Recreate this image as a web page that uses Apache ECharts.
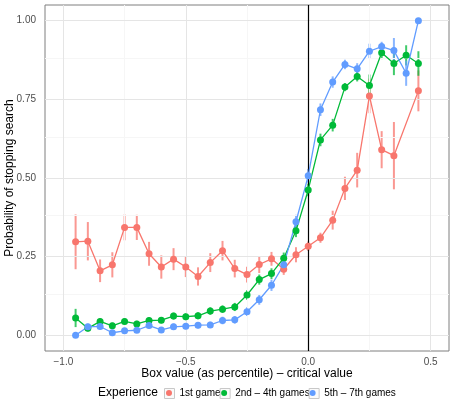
<!DOCTYPE html>
<html>
<head>
<meta charset="utf-8">
<script src="https://cdn.jsdelivr.net/npm/echarts@6/dist/echarts.min.js"></script>
<style>
  html, body { margin: 0; padding: 0; background: #fff; }
  #chart { width: 450px; height: 400px; }
</style>
</head>
<body>
<div id="chart"></div>
<script>
// box value (percentile) - critical value
const xVals = [-0.95, -0.90, -0.85, -0.80, -0.75, -0.70, -0.65, -0.60, -0.55, -0.50,
  -0.45, -0.40, -0.35, -0.30, -0.25, -0.20, -0.15, -0.10, -0.05, 0.00,
  0.05, 0.10, 0.15, 0.20, 0.25, 0.30, 0.35, 0.40, 0.45];

// probability of stopping search, per experience group
const firstGame = [0.297, 0.299, 0.205, 0.224, 0.343, 0.343, 0.259, 0.217, 0.242, 0.217,
  0.187, 0.231, 0.269, 0.212, 0.193, 0.225, 0.243, 0.210, 0.256, 0.283,
  0.310, 0.366, 0.467, 0.525, 0.761, 0.590, 0.571, null, 0.777];
const firstGameErr = [0.087, 0.061, 0.036, 0.040, 0.041, 0.040, 0.038, 0.037, 0.035, 0.032,
  0.029, 0.030, 0.031, 0.028, 0.025, 0.027, 0.022, 0.018, 0.024, 0.015,
  0.016, 0.030, 0.037, 0.055, 0.055, 0.059, 0.107, null, 0.065];

const midGames = [0.055, 0.022, 0.044, 0.030, 0.044, 0.036, 0.047, 0.048, 0.061, 0.059,
  0.062, 0.077, 0.083, 0.090, 0.128, 0.177, 0.196, 0.245, 0.332, 0.462,
  0.621, 0.668, 0.789, 0.823, 0.794, 0.898, 0.864, 0.890, 0.864];
const midGamesErr = [0.029, 0.010, 0.010, 0.010, 0.010, 0.010, 0.010, 0.010, 0.011, 0.011,
  0.011, 0.012, 0.012, 0.013, 0.015, 0.016, 0.017, 0.018, 0.020, 0.020,
  0.020, 0.020, 0.013, 0.016, 0.035, 0.020, 0.037, 0.032, 0.039];

const lateGames = [0.000, 0.027, 0.028, 0.008, 0.014, 0.016, 0.031, 0.017, 0.027, 0.029,
  0.032, 0.033, 0.047, 0.049, 0.075, 0.113, 0.159, 0.224, 0.361, 0.507,
  0.717, 0.805, 0.861, 0.847, 0.903, 0.918, 0.905, 0.833, 1.000];
const lateGamesErr = [0.000, 0.010, 0.010, 0.006, 0.007, 0.008, 0.010, 0.008, 0.010, 0.010,
  0.010, 0.010, 0.012, 0.012, 0.014, 0.016, 0.018, 0.020, 0.022, 0.022,
  0.020, 0.018, 0.015, 0.018, 0.024, 0.015, 0.040, 0.040, 0.000];

const groupNames = ['1st game', '2nd – 4th games', '5th – 7th games'];
const groupColors = ['#F8766D', '#00BA38', '#619CFF'];

// tick values
const xMajor = [-1.0, -0.5, 0.0, 0.5];
const xMinor = [-0.75, -0.25, 0.25];
const yMajor = [0, 0.25, 0.5, 0.75, 1.0];
const yMinor = [0.125, 0.375, 0.625, 0.875];

const FONT = 'Liberation Sans, Arial, sans-serif';

const chart = echarts.init(document.getElementById('chart'));

// 误差线
function errorSeries(name, vals, errs, color) {
  const data = [];
  xVals.forEach((x, i) => {
    if (vals[i] == null || !errs[i]) return;
    data.push([x, vals[i] - errs[i], vals[i] + errs[i]]);
  });
  return {
    name: name,
    type: 'custom',
    silent: true,
    data: data,
    itemStyle: { color: color },
    encode: { x: 0, y: [1, 2] },
    renderItem: function (params, api) {
      const p1 = api.coord([api.value(0), api.value(1)]);
      const p2 = api.coord([api.value(0), api.value(2)]);
      return {
        type: 'line',
        shape: { x1: p1[0], y1: p1[1], x2: p2[0], y2: p2[1] },
        style: { stroke: color, lineWidth: 2, opacity: 0.75 }
      };
    },
    z: 2
  };
}

function lineSeries(name, vals, color) {
  return {
    name: name,
    type: 'line',
    data: xVals.map((x, i) => [x, vals[i]]),
    connectNulls: true,
    symbol: 'circle',
    symbolSize: 7,
    itemStyle: { color: color, borderWidth: 0, opacity: 1 },
    lineStyle: { color: color, width: 1.3 },
    emphasis: { disabled: true },
    z: 5
  };
}

const gridLines = [];
xMinor.forEach(v => gridLines.push({ xAxis: v, lineStyle: { color: '#f6f6f6', width: 1, type: 'solid' } }));
yMinor.forEach(v => gridLines.push({ yAxis: v, lineStyle: { color: '#f6f6f6', width: 1, type: 'solid' } }));
xMajor.forEach(v => gridLines.push({ xAxis: v, lineStyle: { color: '#e5e5e5', width: 1, type: 'solid' } }));
yMajor.forEach(v => gridLines.push({ yAxis: v, lineStyle: { color: '#e5e5e5', width: 1, type: 'solid' } }));

const option = {
  animation: false,
  backgroundColor: '#fff',
  title: {
    text: 'Experience',
    left: 98,
    top: 387,
    padding: 0,
    textStyle: { fontFamily: FONT, fontSize: 12, fontWeight: 'normal', color: '#000' }
  },
  legend: [
    {
      data: groupNames,
      left: 164,
      top: 388,
      padding: 0,
      itemGap: -1,
      itemWidth: 10,
      itemHeight: 10,
      icon: 'rect',
      selectedMode: false,
      itemStyle: { color: '#fafafa', borderColor: '#c8c8c8', borderWidth: 1 },
      textStyle: { fontFamily: FONT, fontSize: 10, color: '#000' }
    },
    {
      data: groupNames,
      left: 166,
      top: 388,
      padding: 0,
      itemGap: 3,
      itemWidth: 6,
      itemHeight: 6,
      icon: 'circle',
      selectedMode: false,
      textStyle: { fontFamily: FONT, fontSize: 10, color: 'rgba(0,0,0,0)' }
    }
  ],
  grid: {
    left: 45,
    right: 1,
    top: 5,
    bottom: 49,
    containLabel: false,
    outerBoundsMode: 'none',
    show: true,
    backgroundColor: '#fff',
    borderColor: '#7f7f7f',
    borderWidth: 1
  },
  xAxis: {
    type: 'value',
    min: -1.075,
    max: 0.575,
    name: 'Box value (as percentile) – critical value',
    nameLocation: 'middle',
    nameGap: 17,
    nameMoveOverlap: false,
    nameTextStyle: { fontFamily: FONT, fontSize: 12, color: '#000' },
    axisLine: { show: false },
    axisTick: { show: true, length: 4, customValues: xMajor, lineStyle: { color: '#7f7f7f' } },
    axisLabel: {
      customValues: xMajor,
      margin: 6,
      fontFamily: FONT,
      fontSize: 10,
      color: '#4d4d4d',
      formatter: v => (v < 0 ? '\u2212' : '') + Math.abs(v).toFixed(1)
    },
    splitLine: { show: false }
  },
  yAxis: {
    type: 'value',
    min: -0.05,
    max: 1.05,
    name: 'Probability of stopping search',
    nameLocation: 'middle',
    nameGap: 29,
    nameMoveOverlap: false,
    nameTextStyle: { fontFamily: FONT, fontSize: 12, color: '#000' },
    axisLine: { show: false },
    axisTick: { show: true, length: 4, customValues: yMajor, lineStyle: { color: '#7f7f7f' } },
    axisLabel: {
      customValues: yMajor,
      margin: 9,
      fontFamily: FONT,
      fontSize: 10,
      color: '#4d4d4d',
      formatter: v => v.toFixed(2)
    },
    splitLine: { show: false }
  },
  series: [
    {
      name: 'gridlines',
      type: 'line',
      data: [],
      silent: true,
      z: 1,
      markLine: {
        silent: true,
        symbol: 'none',
        label: { show: false },
        animation: false,
        data: gridLines
      }
    },
    {
      name: 'zero',
      type: 'line',
      data: [],
      silent: true,
      z: 3,
      markLine: {
        silent: true,
        symbol: 'none',
        label: { show: false },
        animation: false,
        data: [{ xAxis: 0, lineStyle: { color: '#000', width: 1.2, type: 'solid' } }]
      }
    },
    errorSeries(groupNames[0], firstGame, firstGameErr, groupColors[0]),
    errorSeries(groupNames[1], midGames, midGamesErr, groupColors[1]),
    errorSeries(groupNames[2], lateGames, lateGamesErr, groupColors[2]),
    lineSeries(groupNames[0], firstGame, groupColors[0]),
    lineSeries(groupNames[1], midGames, groupColors[1]),
    lineSeries(groupNames[2], lateGames, groupColors[2])
  ]
};

chart.setOption(option);
</script>
</body>
</html>
